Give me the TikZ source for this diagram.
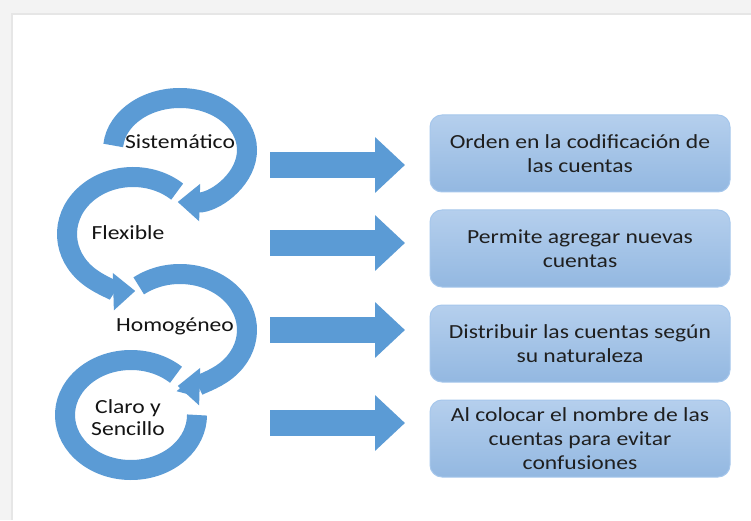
\documentclass[tikz,border=0pt]{standalone}
\usepackage{fontspec}
\setmainfont{Carlito}[FakeStretch=1.18]
\usetikzlibrary{arrows.meta,calc,positioning}
\definecolor{ringblue}{RGB}{91,155,213}
\definecolor{boxtop}{RGB}{181,207,237}
\definecolor{boxbot}{RGB}{147,184,225}
\definecolor{boxline}{RGB}{166,199,236}
\definecolor{pagegray}{RGB}{243,243,243}
\definecolor{pageline}{RGB}{230,230,230}
\tikzset{
  ring/.style={draw=ringblue,line width=20pt,
    preaction={draw=white,line width=24pt}},
  ringarrow/.style={draw=ringblue,line width=20pt,-{Triangle[width=36pt,length=22pt]},
    preaction={draw=white,line width=24pt,-{Triangle[width=42pt,length=26pt]}}},
  blockarrow/.style={draw=ringblue,line width=26pt,-{Triangle[width=54pt,length=30pt]}},
  infobox/.style={rectangle,rounded corners=12pt,top color=boxtop,bottom color=boxbot,
    draw=boxline,line width=1pt,minimum width=300pt,minimum height=77pt,inner sep=2pt,
    align=center,font=\fontsize{20}{24}\selectfont,text=black!88},
  ringlabel/.style={align=center,inner sep=0pt,font=\fontsize{20}{22}\selectfont,text=black!92}
}
\begin{document}
\begin{tikzpicture}[x=1pt,y=1pt]
  \useasboundingbox (0,0) rectangle (751,520);
  % page edge
  \fill[pagegray] (0,0) rectangle (751,520);
  \fill[white] (13,0) rectangle (751,505);
  \draw[pageline,line width=2pt] (12,0) -- (12,506) -- (751,506);

  % ring centres
  \coordinate (c1) at (180,370);
  \coordinate (c2) at (133,286);
  \coordinate (c3) at (180,190);
  \coordinate (c4) at (131,105);

  % rings, bottom one first
  \draw[ring] ($(c4)+(47:66 and 55)$) arc[start angle=47,end angle=360,x radius=66,y radius=55];
  \draw[ringarrow] ($(c3)+(128:67 and 56)$) arc[start angle=128,end angle=-92,x radius=67,y radius=56];
  \draw[ringarrow] ($(c2)+(48:66 and 57)$) arc[start angle=48,end angle=272,x radius=66,y radius=57];
  \draw[ringarrow] ($(c1)+(175:67 and 52)$) arc[start angle=175,end angle=-92,x radius=67,y radius=52];

  \node[ringlabel] (sis) at (180,378) {Sistemático};
  \node[ringlabel] (flex) at (128,287) {Flexible};
  \node[ringlabel] (homo) at (175,194) {Homogéneo};
  \node[ringlabel] (claro) at (128,102) {Claro y\\Sencillo};

  % boxes
  \node[infobox] (b1) at (580,366.5) {Orden en la codificación de\\las cuentas};
  \node[infobox,below=17pt of b1] (b2) {Permite agregar nuevas\\cuentas};
  \node[infobox,below=17pt of b2] (b3) {Distribuir las cuentas según\\su naturaleza};
  \node[infobox,below=17pt of b3] (b4) {Al colocar el nombre de las\\cuentas para evitar\\confusiones};

  % block arrows
  \coordinate (a1s) at (270,355); \coordinate (a1e) at (405,355);
  \coordinate (a2s) at (270,277); \coordinate (a2e) at (405,277);
  \coordinate (a3s) at (270,190); \coordinate (a3e) at (405,190);
  \coordinate (a4s) at (270,97);  \coordinate (a4e) at (405,97);
  \draw[blockarrow] (a1s) -- (a1e);
  \draw[blockarrow] (a2s) -- (a2e);
  \draw[blockarrow] (a3s) -- (a3e);
  \draw[blockarrow] (a4s) -- (a4e);
\end{tikzpicture}
\end{document}
